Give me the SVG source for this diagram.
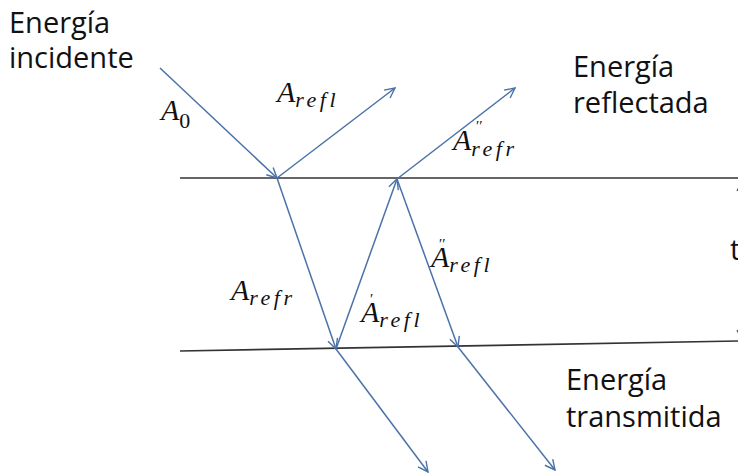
<svg xmlns="http://www.w3.org/2000/svg" width="738" height="475" viewBox="0 0 738 475">
<defs>
<marker id="ah" viewBox="0 0 12 12" refX="11" refY="6" markerWidth="12" markerHeight="12" markerUnits="userSpaceOnUse" orient="auto">
<path d="M1,1 L11,6 L1,11" fill="none" stroke="#4a72a8" stroke-width="1.4"/>
</marker>
<marker id="ahk" viewBox="0 0 12 12" refX="11" refY="6" markerWidth="12" markerHeight="12" markerUnits="userSpaceOnUse" orient="auto-start-reverse">
<path d="M1,1 L11,6 L1,11" fill="none" stroke="#444" stroke-width="1.2"/>
</marker>
</defs>
<style>
.lbl{font-family:"Open Sans","Liberation Sans",sans-serif;font-size:29px;fill:#111}
.m{font-family:"Liberation Serif","DejaVu Serif",serif;font-style:italic;font-size:30px;fill:#111}
.s{font-size:22px;letter-spacing:3.5px}
.p{font-family:"Liberation Serif","DejaVu Serif",serif;font-size:15px;fill:#111}
.ray{stroke:#4a72a8;stroke-width:1.5;fill:none;marker-end:url(#ah)}
.iface{stroke:#333;stroke-width:1.6;fill:none}
</style>
<rect width="738" height="475" fill="#fff"/>
<g id="interfaces">
<line class="iface" x1="180" y1="178" x2="738" y2="178"/>
<line class="iface" x1="180" y1="351" x2="738" y2="341"/>
</g>
<g id="connectors">
<line class="ray" x1="160" y1="68" x2="277" y2="178"/>
<line class="ray" x1="277" y1="178" x2="395" y2="88"/>
<line class="ray" x1="277" y1="178" x2="336" y2="349"/>
<line class="ray" x1="336" y1="349" x2="397" y2="179"/>
<line class="ray" x1="397" y1="179" x2="515" y2="88"/>
<line class="ray" x1="397" y1="179" x2="458" y2="347"/>
<line class="ray" x1="336" y1="349" x2="428" y2="472"/>
<line class="ray" x1="458" y1="347" x2="555" y2="470"/>
<line x1="742" y1="181" x2="742" y2="340" stroke="#444" stroke-width="1.2" marker-start="url(#ahk)" marker-end="url(#ahk)"/>
</g>
<g id="thickness"><text class="lbl" x="730" y="260">t</text></g>
<g id="incident"><text class="lbl" x="9" y="33">Energía</text><text class="lbl" x="9" y="68">incidente</text></g>
<g id="reflected"><text class="lbl" x="573" y="77">Energía</text><text class="lbl" x="573" y="113">reflectada</text></g>
<g id="transmitted"><text class="lbl" x="566" y="390">Energía</text><text class="lbl" x="566" y="427">transmitida</text></g>
<g id="lab-A0"><text class="m" x="161" y="120">A<tspan class="s" dy="8" style="font-style:normal">0</tspan></text></g>
<g id="lab-Arefl"><text class="m" x="277" y="102">A<tspan class="s" dy="5">refl</tspan></text></g>
<g id="lab-Arefr2"><text class="m" x="453" y="150">A<tspan class="s" dy="6">refr</tspan></text><text class="p" x="476" y="131">′′</text></g>
<g id="lab-Arefr"><text class="m" x="231" y="300">A<tspan class="s" dy="5">refr</tspan></text></g>
<g id="lab-Arefl1"><text class="m" x="361" y="322">A<tspan class="s" dy="5">refl</tspan></text><text class="p" x="370" y="304">′</text></g>
<g id="lab-Arefl2"><text class="m" x="431" y="267">A<tspan class="s" dy="5">refl</tspan></text><text class="p" x="439" y="249">′′</text></g>
</svg>
